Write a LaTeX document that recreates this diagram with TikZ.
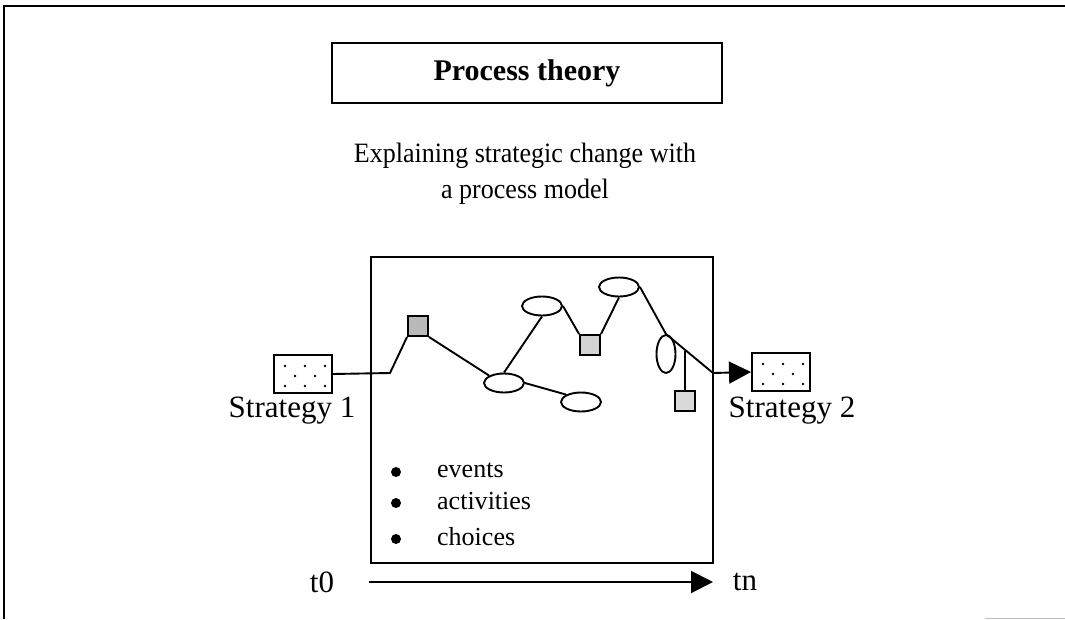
\documentclass[tikz,border=0pt]{standalone}
\usepackage{fontspec}
\setmainfont{Liberation Serif}
\newfontfamily\subfont[FakeStretch=0.93]{Liberation Serif}
\usetikzlibrary{arrows.meta,shapes.geometric,calc}
\begin{document}
\begin{tikzpicture}[x=1pt,y=-1pt,
  ln/.style={line width=1.9pt},
  sqbox/.style={draw,line width=1.9pt,minimum width=20pt,minimum height=20pt,inner sep=0pt},
  ellbox/.style={draw,line width=1.9pt,ellipse,minimum width=40pt,minimum height=19pt,inner sep=0pt},
  vellbox/.style={draw,line width=1.9pt,ellipse,minimum width=19pt,minimum height=38pt,inner sep=0pt},
  stratbox/.style={draw,line width=2pt,minimum width=58pt,minimum height=38pt,inner sep=0pt},
  body/.style={font=\fontsize{31}{36}\selectfont,inner sep=0pt},
  small/.style={font=\fontsize{26}{30}\selectfont,inner sep=0pt,anchor=west},
  bul/.style={circle,fill=black,minimum size=10pt,inner sep=0pt},
  tip/.style={-{Triangle[length=22pt,width=22pt]}}
]
\useasboundingbox (0,0) rectangle (1065,619);
% outer frame
\draw[line width=2pt] (4,619) -- (4,6) -- (1065,6);
\draw[line width=1pt,gray!50] (985,618) -- (1065,618);
% title
\node[draw,line width=1.8pt,minimum width=390pt,minimum height=60pt,inner sep=0pt] (title) at (527,73)
  {\fontsize{30}{34}\selectfont\bfseries Process theory};
\node[align=center,inner sep=0pt,font=\subfont\fontsize{28}{36}\selectfont] (sub) at (525,174)
  {Explaining strategic change with\\a process model};
% main box
\node[draw,line width=2pt,minimum width=342pt,minimum height=306pt,inner sep=0pt] (main) at (542,410) {};
% strategy boxes
\node[stratbox] (s1) at (303,374) {};
\node[stratbox] (s2) at (781,372) {};
\foreach \b in {s1,s2}{
  \foreach \dx/\dy in {-18/-8,2/-8,22/-8,-8/2,12/2,-18/12,2/12,22/12}{
    \fill ($(\b)+(\dx,\dy)$) circle (1.3pt);
  }
}
\node[body] (l1) at (292,411) {Strategy 1};
\node[body] (l2) at (792,411) {Strategy 2};
% process elements
\node[sqbox,fill=gray!55] (q1) at (418,326) {};
\node[ellbox] (e1) at (504,383) {};
\node[ellbox] (e2) at (581,402) {};
\node[ellbox] (e3) at (542,306) {};
\node[sqbox,fill=gray!35] (q2) at (590,345) {};
\node[ellbox] (e4) at (619,287) {};
\node[vellbox] (e5) at (666,354) {};
\node[sqbox,fill=gray!30] (q3) at (685,401) {};
\coordinate (k) at (390,373);
\coordinate (out) at (713,373);
\coordinate (j) at (685,351);
% connectors
\draw[ln] (s1.east) -- (k) -- (q1.south west);
\draw[ln] (q1.south east) -- (e1.north west);
\draw[ln] (e1.east) -- (e2.north west);
\draw[ln] (e1.north) -- (e3.south);
\draw[ln] (e3.east) -- (q2.north west);
\draw[ln] (q2.north east) -- (e4.south);
\draw[ln] (e4.east) -- (e5.north) -- (out);
\draw[ln] (j) -- (q3.north);
\draw[ln,tip] (out) -- (s2.west);
% bullets
\node[bul] (b1) at (396,472) {};
\node[bul] (b2) at (396,503) {};
\node[bul] (b3) at (396,539) {};
\node[small] (t1) at (437,470) {events};
\node[small] (t2) at (437,501) {activities};
\node[small] (t3) at (437,537) {choices};
% time axis
\node[body] (t0) at (322,582) {t0};
\node[body] (tn) at (745,582) {tn};
\coordinate (a0) at (369,582);
\coordinate (a1) at (713,582);
\draw[ln,tip] (a0) -- (a1);
\end{tikzpicture}
\end{document}
